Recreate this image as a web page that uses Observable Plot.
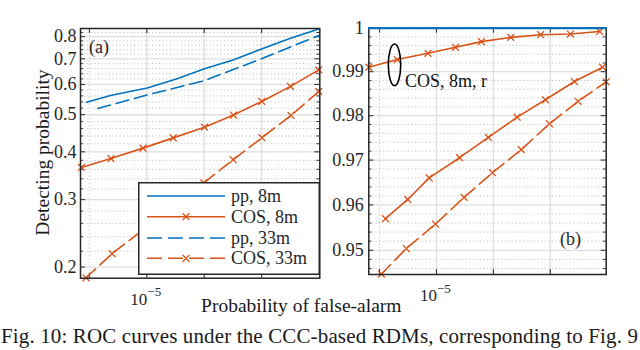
<!DOCTYPE html>
<html><head><meta charset="utf-8">
<script src="https://cdn.jsdelivr.net/npm/d3@7"></script>
<script src="https://cdn.jsdelivr.net/npm/@observablehq/plot@0.6"></script>
<style>
html,body{margin:0;padding:0;background:#fff;}
#root{position:relative;width:640px;height:350px;overflow:hidden;background:#fff;font-family:"Liberation Serif",serif;}
#root > svg{position:absolute;}
</style></head><body><div id="root"></div>
<script>
// ---------- data ----------
const seriesNames = ["pp, 8m", "COS, 8m", "pp, 33m", "COS, 33m"];
const annotationText = "COS, 8m, r";
const panelLabels = ["(a)", "(b)"];
const xLabel = "Probability of false-alarm";
const yLabel = "Detecting probability";
const caption = "Fig. 10: ROC curves under the CCC-based RDMs, corresponding to Fig. 9";

const yTicksA = [0.2, 0.3, 0.4, 0.5, 0.6, 0.7, 0.8];
const yTicksB = [0.95, 0.96, 0.97, 0.98, 0.99, 1];
const xGridMajor = [1e-5, 1.585e-5, 2.512e-5];
const xGridMinor = [6.31e-6];
const xTickLabels = [1e-5];

// panel (a)
const a_pp8_x  = [6.164e-6, 7.47e-6, 1.003e-5, 1.276e-5, 1.589e-5, 2.010e-5, 2.524e-5, 3.167e-5, 3.974e-5];
const a_pp8_y  = [0.539, 0.5615, 0.587, 0.621, 0.659, 0.696, 0.7435, 0.792, 0.838];
const a_cos8_x = [5.92e-6, 7.502e-6, 9.70e-6, 1.236e-5, 1.589e-5, 2.005e-5, 2.516e-5, 3.167e-5, 3.975e-5];
const a_cos8_y = [0.364, 0.384, 0.409, 0.435, 0.464, 0.499, 0.5416, 0.593, 0.655];
const a_pp33_x = [6.75e-6, 1.002e-5, 1.276e-5, 1.589e-5, 2.010e-5, 2.52e-5, 3.167e-5, 3.974e-5];
const a_pp33_y = [0.519, 0.563, 0.589, 0.614, 0.657, 0.701, 0.752, 0.805];
const a_cos33_x = [6.14e-6, 7.574e-6, 9.68e-6, 1.236e-5, 1.580e-5, 2.000e-5, 2.520e-5, 3.180e-5, 3.975e-5];
const a_cos33_y = [0.1875, 0.2168, 0.25, 0.2877, 0.3318, 0.3814, 0.4354, 0.4979, 0.575];

// panel (b)
const b_pp_x    = [5.783e-6, 7.277e-6, 9.335e-6, 1.166e-5, 1.439e-5, 1.824e-5, 2.323e-5, 2.956e-5, 3.95e-5];
const b_pp8_y   = [1, 1, 1, 1, 1, 1, 1, 1, 1];
const b_pp33_y  = [1, 1, 1, 1, 1, 1, 1, 1, 1];
const b_cos8r_x = [5.783e-6, 7.277e-6, 9.335e-6, 1.166e-5, 1.439e-5, 1.824e-5, 2.323e-5, 2.956e-5, 3.747e-5];
const b_cos8r_y = [0.99103, 0.99279, 0.99423, 0.9956, 0.9969, 0.99788, 0.9985, 0.99866, 0.99925];
const b_cos8_x  = [6.618e-6, 7.929e-6, 9.427e-6, 1.206e-5, 1.522e-5, 1.922e-5, 2.415e-5, 3.053e-5, 3.836e-5];
const b_cos8_y  = [0.95695, 0.96122, 0.96601, 0.97053, 0.97508, 0.97966, 0.9836, 0.98776, 0.99103];
const b_cos33_x = [6.407e-6, 7.833e-6, 9.919e-6, 1.25e-5, 1.573e-5, 1.986e-5, 2.496e-5, 3.146e-5, 3.948e-5];
const b_cos33_y = [0.9448, 0.95039, 0.95577, 0.96167, 0.96717, 0.97234, 0.97817, 0.98326, 0.98769];
const ellipseCenter = [7.15e-6, 0.99146];

// ---------- styling ----------
const BLUE = "#0072BD", ORANGE = "#D95319", INK = "#262626";
const DASH = "13,6";
const FONT = "'Liberation Serif', 'Times New Roman', serif";
const root = document.getElementById("root");

const pts = (xs, ys) => xs.map((x, i) => ({x, y: ys[i]}));

function panel(o) {
  const iw = o.width - o.ml - o.mr, ih = o.height - o.mt - o.mb;
  const marks = [
    Plot.ruleY(o.yMinor, {y: d => d, stroke: "#a8a8a8", strokeWidth: 0.8, strokeDasharray: "1,2.6"}),
    Plot.ruleX(xGridMinor, {x: d => d, stroke: "#a8a8a8", strokeWidth: 0.8, strokeDasharray: "1,2.6"}),
    Plot.ruleY(o.yTicks, {y: d => d, stroke: "#dedede", strokeWidth: 1.3}),
    Plot.ruleX(xGridMajor, {x: d => d, stroke: "#dedede", strokeWidth: 1.3}),
    // ticks (inward, all four sides)
    Plot.ruleY(o.yTicks, {y: d => d, insetRight: iw - 5, stroke: INK, strokeWidth: 1}),
    Plot.ruleY(o.yTicks, {y: d => d, insetLeft: iw - 5, stroke: INK, strokeWidth: 1}),
    Plot.ruleY(o.yMinor, {y: d => d, insetRight: iw - 3, stroke: INK, strokeWidth: 0.9}),
    Plot.ruleY(o.yMinor, {y: d => d, insetLeft: iw - 3, stroke: INK, strokeWidth: 0.9}),
    Plot.ruleX(xGridMinor.concat(xGridMajor), {x: d => d, insetTop: ih - 5, stroke: INK, strokeWidth: 1}),
    Plot.ruleX(xGridMinor.concat(xGridMajor), {x: d => d, insetBottom: ih - 5, stroke: INK, strokeWidth: 1}),
    ...o.series.map(s => Plot.line(s.data, {x: "x", y: "y", stroke: s.color, strokeWidth: 1.6,
        strokeDasharray: s.dash ? DASH : null, curve: "linear"})),
    ...o.series.filter(s => s.marker).map(s => Plot.dot(s.data, {x: "x", y: "y", symbol: "times",
        r: 3.2, stroke: s.color, strokeWidth: 1.3})),
    Plot.frame({stroke: INK, strokeWidth: 1.5}),
    ...(o.after || []),
    Plot.text(o.yTicks, {y: d => d, frameAnchor: "left", textAnchor: "end", dx: o.labelDx,
        text: o.fmt, fontSize: 18, fill: INK}),
    Plot.text(xTickLabels, {x: d => d, frameAnchor: "bottom", textAnchor: "end", lineAnchor: "bottom",
        dy: 26.3, dx: 0.5, text: () => "10", fontSize: 17, fill: INK}),
    Plot.text(xTickLabels, {x: d => d, frameAnchor: "bottom", textAnchor: "start", lineAnchor: "bottom",
        dy: 18, dx: 0.5, text: () => "\u22125", fontSize: 13, fill: INK})
  ];
  const svg = Plot.plot({
    width: o.width, height: o.height,
    marginLeft: o.ml, marginRight: o.mr, marginTop: o.mt, marginBottom: o.mb,
    x: {type: "log", domain: o.xDom, axis: null},
    y: {type: "log", domain: o.yDom, axis: null},
    style: `font-family: ${FONT}; background: transparent; overflow: visible;`,
    marks
  });
  svg.style.left = o.left + "px";
  svg.style.top = "0px";
  root.appendChild(svg);
  return svg;
}

const yMinorA = d3.range(0.20, 0.841, 0.02).map(v => +v.toFixed(2)).filter(v => !yTicksA.includes(v));
const yMinorB = d3.range(0.946, 0.9995, 0.002).map(v => +v.toFixed(3)).filter(v => !yTicksB.includes(v));

panel({
  left: 0, width: 325, height: 320, ml: 80, mr: 5.7, mt: 28, mb: 42.3,
  xDom: [5.875e-6, 4.007e-5], yDom: [0.187, 0.84],
  yTicks: yTicksA, yMinor: yMinorA, fmt: d => d.toFixed(1), labelDx: -4,
  series: [
    {data: pts(a_pp33_x, a_pp33_y), color: BLUE, dash: true},
    {data: pts(a_cos33_x, a_cos33_y), color: ORANGE, dash: true, marker: true},
    {data: pts(a_pp8_x, a_pp8_y), color: BLUE},
    {data: pts(a_cos8_x, a_cos8_y), color: ORANGE, marker: true}
  ]
});

const xDomB = [5.783e-6, 3.95e-5], yDomB = [0.9447, 1];
panel({
  left: 320, width: 320, height: 320, ml: 48.3, mr: 34.3, mt: 27.7, mb: 46,
  xDom: xDomB, yDom: yDomB,
  yTicks: yTicksB, yMinor: yMinorB, fmt: d => d === 1 ? "1" : d.toFixed(2), labelDx: -5,
  series: [
    {data: pts(b_cos33_x, b_cos33_y), color: ORANGE, dash: true, marker: true},
    {data: pts(b_cos8_x, b_cos8_y), color: ORANGE, marker: true},
    {data: pts(b_cos8r_x, b_cos8r_y), color: ORANGE, marker: true}
  ],
  after: [
    Plot.line(pts(b_pp_x, b_pp33_y), {x: "x", y: "y", stroke: BLUE, strokeWidth: 1.6, strokeDasharray: DASH}),
    Plot.line(pts(b_pp_x, b_pp8_y), {x: "x", y: "y", stroke: BLUE, strokeWidth: 2})
  ]
});

// ---------- overlay texts ----------
const sx = d3.scaleLog().domain(xDomB).range([320 + 48.3, 320 + 320 - 34.3]);
const sy = d3.scaleLog().domain(yDomB).range([320 - 46, 27.7]);
const ov = d3.select(root).append("svg").attr("width", 640).attr("height", 350)
  .style("left", "0px").style("top", "0px").style("font-family", FONT).attr("fill", "#1a1a1a");
ov.append("text").attr("transform", "translate(49,152.5) rotate(-90)").attr("text-anchor", "middle")
  .attr("font-size", 19.5).text(yLabel);
ov.append("text").attr("x", 301.3).attr("y", 312).attr("text-anchor", "middle").attr("font-size", 19.5).text(xLabel);
ov.append("text").attr("x", 1).attr("y", 343).attr("font-size", 21)
  .attr("textLength", 637).attr("lengthAdjust", "spacing").text(caption);
ov.append("text").attr("x", 89).attr("y", 53).attr("font-size", 18).attr("fill", INK).text(panelLabels[0]);
ov.append("text").attr("x", 560).attr("y", 244.5).attr("font-size", 18).attr("fill", INK).text(panelLabels[1]);
ov.append("text").attr("x", 405).attr("y", 86.5).attr("font-size", 18).attr("fill", "#111").text(annotationText);
ov.append("ellipse").attr("cx", sx(ellipseCenter[0])).attr("cy", sy(ellipseCenter[1]))
  .attr("rx", 6.2).attr("ry", 20.8).attr("fill", "none").attr("stroke", "#000").attr("stroke-width", 1.6);

// ---------- legend ----------
const lg = d3.select(root).append("svg").attr("width", 182).attr("height", 93)
  .style("left", "138px").style("top", "182px").style("font-family", FONT);
lg.append("rect").attr("x", 0.75).attr("y", 0.75).attr("width", 180.5).attr("height", 91.5)
  .attr("fill", "#fff").attr("stroke", INK).attr("stroke-width", 1.5);
const legendStyles = [
  {color: BLUE, dash: false, marker: false},
  {color: ORANGE, dash: false, marker: true},
  {color: BLUE, dash: true, marker: false},
  {color: ORANGE, dash: true, marker: true}
];
const rowY = [14, 34.7, 56, 76.3];
seriesNames.forEach((name, i) => {
  const st = legendStyles[i], y = rowY[i];
  lg.append("line").attr("x1", 9).attr("x2", 87).attr("y1", y).attr("y2", y)
    .attr("stroke", st.color).attr("stroke-width", 1.6).attr("stroke-dasharray", st.dash ? "15,6" : null);
  if (st.marker) lg.append("path").attr("transform", `translate(48,${y})`)
    .attr("d", d3.symbol(d3.symbolTimes, 32)()).attr("fill", "none").attr("stroke", st.color).attr("stroke-width", 1.3);
  lg.append("text").attr("x", 93).attr("y", y + 6).attr("font-size", 18).attr("fill", INK).text(name);
});
</script></body></html>
